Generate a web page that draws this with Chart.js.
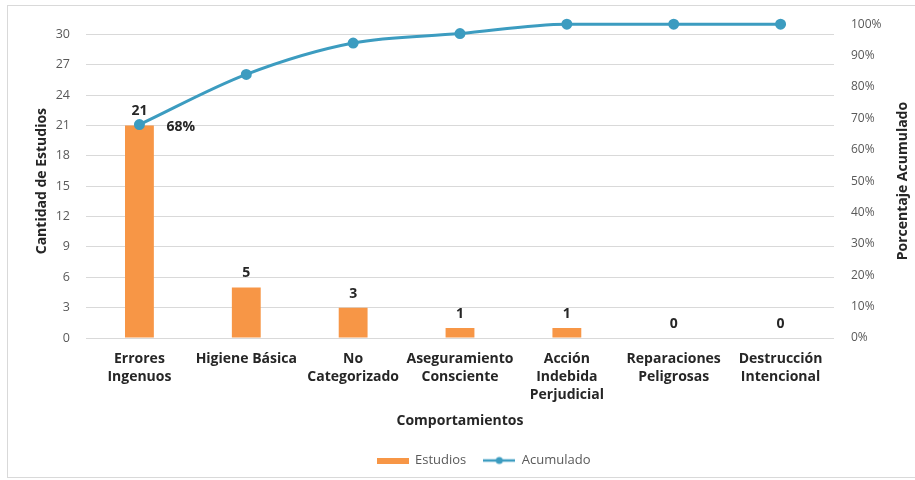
<!DOCTYPE html>
<html lang="es">
<head>
<meta charset="utf-8">
<title>Comportamientos – Pareto</title>
<script src="https://cdn.jsdelivr.net/npm/chart.js@4.4.1/dist/chart.umd.min.js"></script>
<style>
  html, body { margin: 0; padding: 0; background: #ffffff; }
  #wrap { width: 915px; height: 480px; position: relative; }
</style>
</head>
<body>
<div id="wrap"><canvas id="pareto" width="915" height="480"></canvas></div>
<script>
// Categories (multi-line tick labels)
const categorias = [
  ['Errores', 'Ingenuos'],
  ['Higiene Básica'],
  ['No', 'Categorizado'],
  ['Aseguramiento', 'Consciente'],
  ['Acción', 'Indebida', 'Perjudicial'],
  ['Reparaciones', 'Peligrosas'],
  ['Destrucción', 'Intencional']
];
// Number of studies per behaviour
const estudios = [21, 5, 3, 1, 1, 0, 0];
// Cumulative share (fraction of total)
const acumulado = [0.68, 0.84, 0.94, 0.97, 1.00, 1.00, 1.00];
// Left axis ticks and range
const ticksEstudios = [0, 3, 6, 9, 12, 15, 18, 21, 24, 27, 30];
const maxEstudios = 31;
// Right axis ticks (fractions)
const ticksPorcentaje = [0, 0.1, 0.2, 0.3, 0.4, 0.5, 0.6, 0.7, 0.8, 0.9, 1.0];
// Which cumulative point carries a value label
const puntosEtiquetados = [0];

const FONT = "'Open Sans', 'DejaVu Sans', sans-serif";
const NARANJA = '#F79646';
const AZUL = '#3C9CC0';
const GRIS_TXT = '#595959';
const OSCURO = '#262626';

// Legend symbols
function simboloBarra() {
  const c = document.createElement('canvas');
  c.width = 32; c.height = 6;
  const g = c.getContext('2d');
  g.fillStyle = NARANJA;
  g.fillRect(0, 0, 32, 6);
  return c;
}
function simboloLinea() {
  const c = document.createElement('canvas');
  c.width = 32; c.height = 10;
  const g = c.getContext('2d');
  g.strokeStyle = AZUL;
  g.lineWidth = 2.5;
  g.beginPath(); g.moveTo(0, 5); g.lineTo(32, 5); g.stroke();
  g.fillStyle = AZUL;
  g.beginPath(); g.arc(16, 5, 3.5, 0, Math.PI * 2); g.fill();
  return c;
}
const simbolos = [simboloBarra(), simboloLinea()];

// Frame + white background
const marco = {
  id: 'marco',
  beforeDraw(chart) {
    const ctx = chart.ctx;
    ctx.save();
    ctx.fillStyle = '#ffffff';
    ctx.fillRect(0, 0, chart.width, chart.height);
    ctx.strokeStyle = '#D9D9D9';
    ctx.lineWidth = 1;
    ctx.strokeRect(7.5, 5.5, chart.width + 10, 472);
    ctx.restore();
  }
};

// Value labels on bars and on selected cumulative points
const etiquetas = {
  id: 'etiquetas',
  afterDatasetsDraw(chart) {
    const ctx = chart.ctx;
    ctx.save();
    ctx.font = "bold 14px " + FONT;
    ctx.fillStyle = OSCURO;
    const barras = chart.getDatasetMeta(0);
    barras.data.forEach((el, i) => {
      ctx.textAlign = 'center';
      ctx.textBaseline = 'middle';
      ctx.fillText(String(estudios[i]), el.x, el.y - 14);
    });
    const linea = chart.getDatasetMeta(1);
    puntosEtiquetados.forEach(i => {
      const el = linea.data[i];
      ctx.textAlign = 'left';
      ctx.textBaseline = 'middle';
      ctx.fillText(Math.round(acumulado[i] * 100) + '%', el.x + 27, el.y + 2);
    });
    ctx.restore();
  }
};

// Right axis title, reading bottom-to-top
const tituloDerecho = {
  id: 'tituloDerecho',
  afterDraw(chart) {
    const ctx = chart.ctx;
    const area = chart.chartArea;
    ctx.save();
    ctx.translate(903, (area.top + area.bottom) / 2);
    ctx.rotate(-Math.PI / 2);
    ctx.font = "bold 14px " + FONT;
    ctx.fillStyle = OSCURO;
    ctx.textAlign = 'center';
    ctx.textBaseline = 'middle';
    ctx.fillText('Porcentaje Acumulado', 0, 0);
    ctx.restore();
  }
};

// Shift the legend block to the right
const leyendaDesplazada = {
  id: 'leyendaDesplazada',
  afterLayout(chart) {
    const lg = chart.legend;
    if (lg) { lg.left += 26; lg.right += 26; }
  }
};

new Chart(document.getElementById('pareto'), {
  data: {
    labels: categorias,
    datasets: [
      {
        type: 'bar',
        label: 'Estudios',
        data: estudios,
        backgroundColor: NARANJA,
        borderWidth: 0,
        barPercentage: 0.27,
        categoryPercentage: 1,
        yAxisID: 'y',
        order: 2
      },
      {
        type: 'line',
        label: 'Acumulado',
        data: acumulado,
        borderColor: AZUL,
        backgroundColor: AZUL,
        borderWidth: 3,
        pointRadius: 4,
        pointBackgroundColor: AZUL,
        pointBorderColor: AZUL,
        cubicInterpolationMode: 'monotone',
        clip: false,
        yAxisID: 'y1',
        order: 1
      }
    ]
  },
  options: {
    responsive: false,
    animation: false,
    devicePixelRatio: 1,
    layout: { padding: { top: 24, left: 0, right: 0, bottom: 3 } },
    plugins: {
      tooltip: { enabled: false },
      legend: {
        position: 'bottom',
        labels: {
          font: { family: FONT, size: 13 },
          color: GRIS_TXT,
          usePointStyle: true,
          pointStyleWidth: 32,
          padding: 17,
          sort: (a, b) => a.datasetIndex - b.datasetIndex,
          generateLabels(chart) {
            const items = Chart.defaults.plugins.legend.labels.generateLabels(chart);
            return items.map(it => Object.assign(it, { pointStyle: simbolos[it.datasetIndex] }));
          }
        }
      }
    },
    scales: {
      x: {
        grid: { display: false, drawTicks: false },
        border: { display: false },
        ticks: {
          autoSkip: false,
          maxRotation: 0,
          padding: 12,
          color: OSCURO,
          font: { family: FONT, size: 14, weight: 'bold', lineHeight: 1.3 }
        },
        title: {
          display: true,
          text: 'Comportamientos',
          color: OSCURO,
          font: { family: FONT, size: 14, weight: 'bold' },
          padding: { top: 0, bottom: 7.6 }
        },
        afterFit(scale) { scale.height = 99; }
      },
      y: {
        position: 'left',
        min: 0,
        max: maxEstudios,
        grid: { color: '#D9D9D9', drawTicks: false },
        border: { display: false },
        ticks: {
          padding: 16,
          color: GRIS_TXT,
          font: { family: FONT, size: 12.5 }
        },
        afterBuildTicks(scale) {
          scale.ticks = ticksEstudios.map(v => ({ value: v }));
        },
        title: {
          display: true,
          text: 'Cantidad de Estudios',
          color: OSCURO,
          font: { family: FONT, size: 14, weight: 'bold' },
          padding: { top: 33.6, bottom: 0 }
        },
        afterFit(scale) { scale.width = 86; }
      },
      y1: {
        position: 'right',
        min: 0,
        max: 1,
        grid: { drawOnChartArea: false, drawTicks: false },
        border: { display: false },
        ticks: {
          padding: 17,
          color: GRIS_TXT,
          font: { family: FONT, size: 12 },
          callback: v => Math.round(v * 100) + '%'
        },
        afterBuildTicks(scale) {
          scale.ticks = ticksPorcentaje.map(v => ({ value: v }));
        },
        afterFit(scale) { scale.width = 81; }
      }
    }
  },
  plugins: [marco, etiquetas, tituloDerecho, leyendaDesplazada]
});
</script>
</body>
</html>
